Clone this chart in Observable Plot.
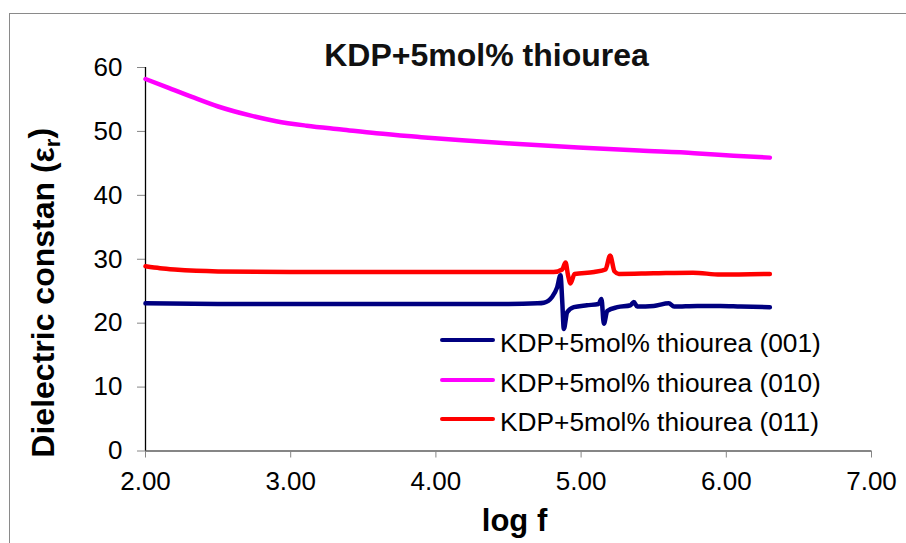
<!DOCTYPE html>
<html>
<head>
<meta charset="utf-8">
<script src="https://cdn.jsdelivr.net/npm/d3@7"></script>
<script src="https://cdn.jsdelivr.net/npm/@observablehq/plot@0.6"></script>
<style>
  html, body { margin: 0; padding: 0; background: #fff; }
  #wrap { position: relative; width: 906px; height: 543px; overflow: hidden; font-family: "Liberation Sans", Arial, sans-serif; }
  #frame { position: absolute; left: 9px; top: 13px; width: 1000px; height: 1000px; border-left: 1px solid #8a8a8a; border-top: 1px solid #8a8a8a; }
  #chart { position: absolute; left: 0; top: 0; }
  .leg { position: absolute; left: 440px; font-size: 26.3px; line-height: 26px; color: #000; white-space: nowrap; }
  .leg .sw { position: absolute; left: 0; width: 55px; height: 4px; border-radius: 2px; }
  .leg .lbl { position: absolute; left: 60px; top: 0; }
</style>
</head>
<body>
<div id="wrap">
  <div id="frame"></div>
  <div id="chart"></div>
  <div id="legend"></div>
</div>
<script>
// ---- data ----
const title = "KDP+5mol% thiourea";
const xLabel = "log f";
const yLabel = "Dielectric constan (εr)";
const xTicks = [2, 3, 4, 5, 6, 7];
const yTicks = [0, 10, 20, 30, 40, 50, 60];

const seriesNames = ["KDP+5mol% thiourea (001)", "KDP+5mol% thiourea (010)", "KDP+5mol% thiourea (011)"];
const seriesColors = ["#000080", "#FF00FF", "#FF0000"];

const logf001 = [2.00, 2.50, 3.00, 3.50, 4.00, 4.50, 4.70, 4.743, 4.80, 4.835, 4.858, 4.870, 4.881, 4.904, 4.95, 5.04, 5.12, 5.14, 5.157, 5.18, 5.25, 5.34, 5.363, 5.386, 5.50, 5.604, 5.64, 5.80, 5.96, 6.10, 6.30];
const eps001  = [23.1, 23.0, 23.0, 23.0, 23.0, 23.0, 23.1, 23.2, 24.1, 25.6, 27.5, 23.5, 19.1, 21.7, 22.5, 22.8, 23.0, 23.8, 19.9, 21.9, 22.5, 22.8, 23.3, 22.6, 22.7, 23.1, 22.6, 22.7, 22.7, 22.6, 22.5];

const logf010 = [2.00, 2.15, 2.32, 2.50, 2.72, 2.90, 3.11, 3.35, 3.59, 3.90, 4.18, 4.60, 4.98, 5.40, 5.78, 6.05, 6.30];
const eps010  = [58.2, 56.9, 55.4, 53.9, 52.5, 51.6, 50.9, 50.3, 49.7, 49.1, 48.6, 48.0, 47.5, 47.0, 46.6, 46.2, 45.9];

const logf011 = [2.00, 2.10, 2.20, 2.35, 2.50, 3.00, 3.50, 4.00, 4.60, 4.81, 4.87, 4.893, 4.910, 4.927, 4.955, 5.09, 5.168, 5.20, 5.23, 5.26, 5.50, 5.77, 5.96, 6.30];
const eps011  = [28.9, 28.6, 28.4, 28.2, 28.1, 28.0, 28.0, 28.0, 28.0, 28.0, 28.4, 29.5, 27.5, 26.2, 27.7, 28.0, 28.4, 30.6, 28.1, 27.7, 27.8, 27.9, 27.6, 27.7];

// ---- build table ----
const data = [
  ...logf001.map((x, i) => ({series: seriesNames[0], logf: x, eps: eps001[i]})),
  ...logf010.map((x, i) => ({series: seriesNames[1], logf: x, eps: eps010[i]})),
  ...logf011.map((x, i) => ({series: seriesNames[2], logf: x, eps: eps011[i]}))
];

const axisGray = "#868686";

const chart = Plot.plot({
  width: 906,
  height: 543,
  marginLeft: 145,
  marginRight: 35,
  marginTop: 67,
  marginBottom: 92.5,
  x: {domain: [2, 7]},
  y: {domain: [0, 60]},
  color: {domain: seriesNames, range: seriesColors},
  style: {fontFamily: "'Liberation Sans', Arial, sans-serif", fontSize: "26px", color: "black", background: "transparent", overflow: "visible"},
  marks: [
    Plot.ruleY([0], {stroke: axisGray, strokeWidth: 2}),
    Plot.axisX({ticks: xTicks, tickFormat: d => d.toFixed(2), tickSize: 7, tickPadding: 14, stroke: axisGray, fill: "black", fontSize: 26, label: null}),
    Plot.axisY({ticks: yTicks, tickSize: 8, tickPadding: 15, stroke: axisGray, fill: "black", fontSize: 26, label: null}),
    Plot.ruleX([2], {y1: 0, y2: 60, stroke: "black", strokeWidth: 1.3}),
    Plot.line(data, {x: "logf", y: "eps", z: "series", stroke: "series", strokeWidth: 4.5, strokeLinejoin: "round", strokeLinecap: "round", curve: "monotone-x"}),
    Plot.text([title], {text: d => d, frameAnchor: "top", lineAnchor: "bottom", textAnchor: "middle", dx: -22, dy: -2, fontSize: 32, fontWeight: "bold", fill: "#111"}),
    Plot.text([xLabel], {text: d => d, frameAnchor: "bottom", lineAnchor: "bottom", textAnchor: "middle", dx: 6, dy: 79.5, fontSize: 31, fontWeight: "bold", fill: "black"}),
    Plot.text([yLabel], {text: d => d, frameAnchor: "left", lineAnchor: "bottom", textAnchor: "middle", rotate: -90, dx: -92, dy: 33.5, fontSize: 32, fontWeight: "bold", fill: "black"})
  ]
});
document.getElementById("chart").appendChild(chart);

// subscript r in the y label
d3.select(chart).selectAll("text").each(function() {
  const t = d3.select(this);
  if (t.text() === yLabel) {
    t.text("");
    t.append("tspan").text("Dielectric constan (ε");
    t.append("tspan").attr("dy", "0.3em").attr("font-size", "70%").text("r");
    t.append("tspan").attr("dy", "-0.3em").text(")");
  }
});

// legend
const legend = d3.select("#legend");
const rowBaselines = [352.3, 391.7, 431];
seriesNames.forEach((name, i) => {
  const row = legend.append("div").attr("class", "leg").style("top", (rowBaselines[i] - 22) + "px");
  row.append("div").attr("class", "sw").style("background", seriesColors[i]).style("top", "8px");
  row.append("div").attr("class", "lbl").text(name);
});
</script>
</body>
</html>
